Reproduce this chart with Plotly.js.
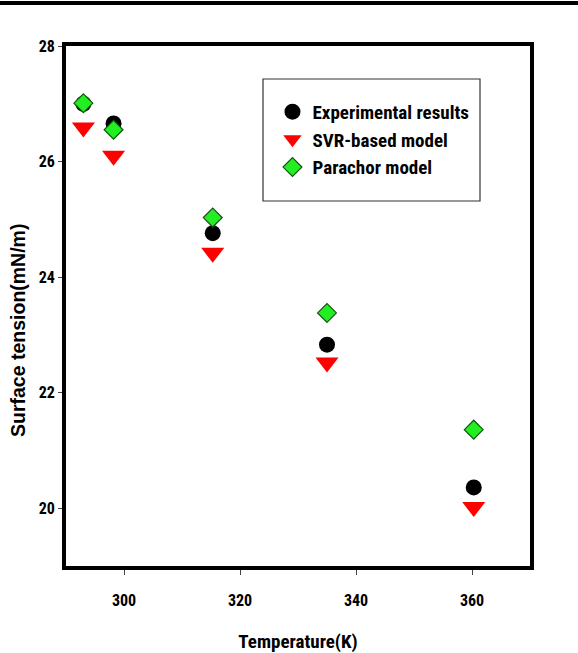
<!DOCTYPE html>
<html>
<head>
<meta charset="utf-8">
<script src="https://cdn.plot.ly/plotly-3.0.1.min.js"></script>
<style>html,body{margin:0;padding:0;background:#fff;}#chart{width:578px;height:653px;}</style>
</head>
<body>
<div id="chart"></div>
<script>
const temperature = [293, 298.2, 315.3, 335, 360.3];
const experimental = [27.0, 26.66, 24.76, 22.83, 20.36];
const svrModel = [26.59, 26.10, 24.42, 22.52, 20.02];
const parachorModel = [27.01, 26.55, 25.03, 23.38, 21.36];
const xTicks = [300, 320, 340, 360];
const yTicks = [20, 22, 24, 26, 28];
const seriesNames = ['Experimental results', 'SVR-based model', 'Parachor model'];
const xTitle = 'Temperature(K)';
const yTitle = 'Surface tension(mN/m)';

const narrow = 'Liberation Sans Narrow, Arial Narrow, Roboto Condensed, sans-serif';

const traces = [
  {x: temperature, y: experimental, name: seriesNames[0], type: 'scatter', mode: 'markers',
   marker: {symbol: 'circle', size: 16, color: '#000000'}},
  {x: temperature, y: svrModel, name: seriesNames[1], type: 'scatter', mode: 'markers',
   marker: {symbol: 'triangle-down', size: 20, color: '#ff0000', line: {width: 0}}},
  {x: temperature, y: parachorModel, name: seriesNames[2], type: 'scatter', mode: 'markers',
   marker: {symbol: 'diamond', size: 14.5, color: '#22ee22', line: {width: 1.2, color: '#145214'}}}
];

const layout = {
  width: 578, height: 653,
  margin: {l: 66, r: 48, t: 46, b: 87},
  paper_bgcolor: '#ffffff', plot_bgcolor: '#ffffff',
  showlegend: true,
  legend: {x: 0.445, y: 0.91, xanchor: 'left', yanchor: 'top',
    bgcolor: 'rgba(0,0,0,0)', borderwidth: 0,
    font: {family: narrow, size: 19, color: '#000', weight: 'bold'},
    tracegroupgap: 0, itemsizing: 'trace'},
  xaxis: {range: [290, 370], tickvals: xTicks, ticktext: xTicks.map(String),
    showgrid: false, zeroline: false, showline: true, linecolor: '#000', linewidth: 4, mirror: true,
    ticks: 'outside', ticklen: 5, tickwidth: 1, tickcolor: '#444', ticklabelstandoff: 12,
    tickfont: {family: narrow, size: 16, color: '#000', weight: 'bold'},
    title: {text: xTitle, standoff: 26, font: {family: narrow, size: 19, color: '#000', weight: 'bold'}}},
  yaxis: {range: [19, 28], tickvals: yTicks, ticktext: yTicks.map(String),
    showgrid: false, zeroline: false, showline: true, linecolor: '#000', linewidth: 4, mirror: true,
    ticks: 'outside', ticklen: 4, tickwidth: 1, tickcolor: '#444',
    tickfont: {family: narrow, size: 16, color: '#000', weight: 'bold'}},
  annotations: [
    {text: yTitle, xref: 'paper', yref: 'paper', x: (18-66)/464, y: (566-331)/520,
     xanchor: 'center', yanchor: 'middle', textangle: -90, showarrow: false,
     font: {family: 'Liberation Sans, Arial, sans-serif', size: 19.5, color: '#000', weight: 'bold'}}
  ],
  shapes: [
    {type: 'line', xref: 'paper', yref: 'paper', x0: -0.2, x1: 1.2, y0: 1 + 43/520, y1: 1 + 43/520,
     line: {color: '#000', width: 4}},
    {type: 'rect', xref: 'paper', yref: 'paper', x0: (263-66)/464, x1: (480-66)/464,
     y0: (566-201)/520, y1: (566-79)/520, line: {color: '#333', width: 1.2}, fillcolor: 'rgba(0,0,0,0)'}
  ]
};

Plotly.newPlot('chart', traces, layout, {displayModeBar: false, staticPlot: true});
</script>
</body>
</html>
